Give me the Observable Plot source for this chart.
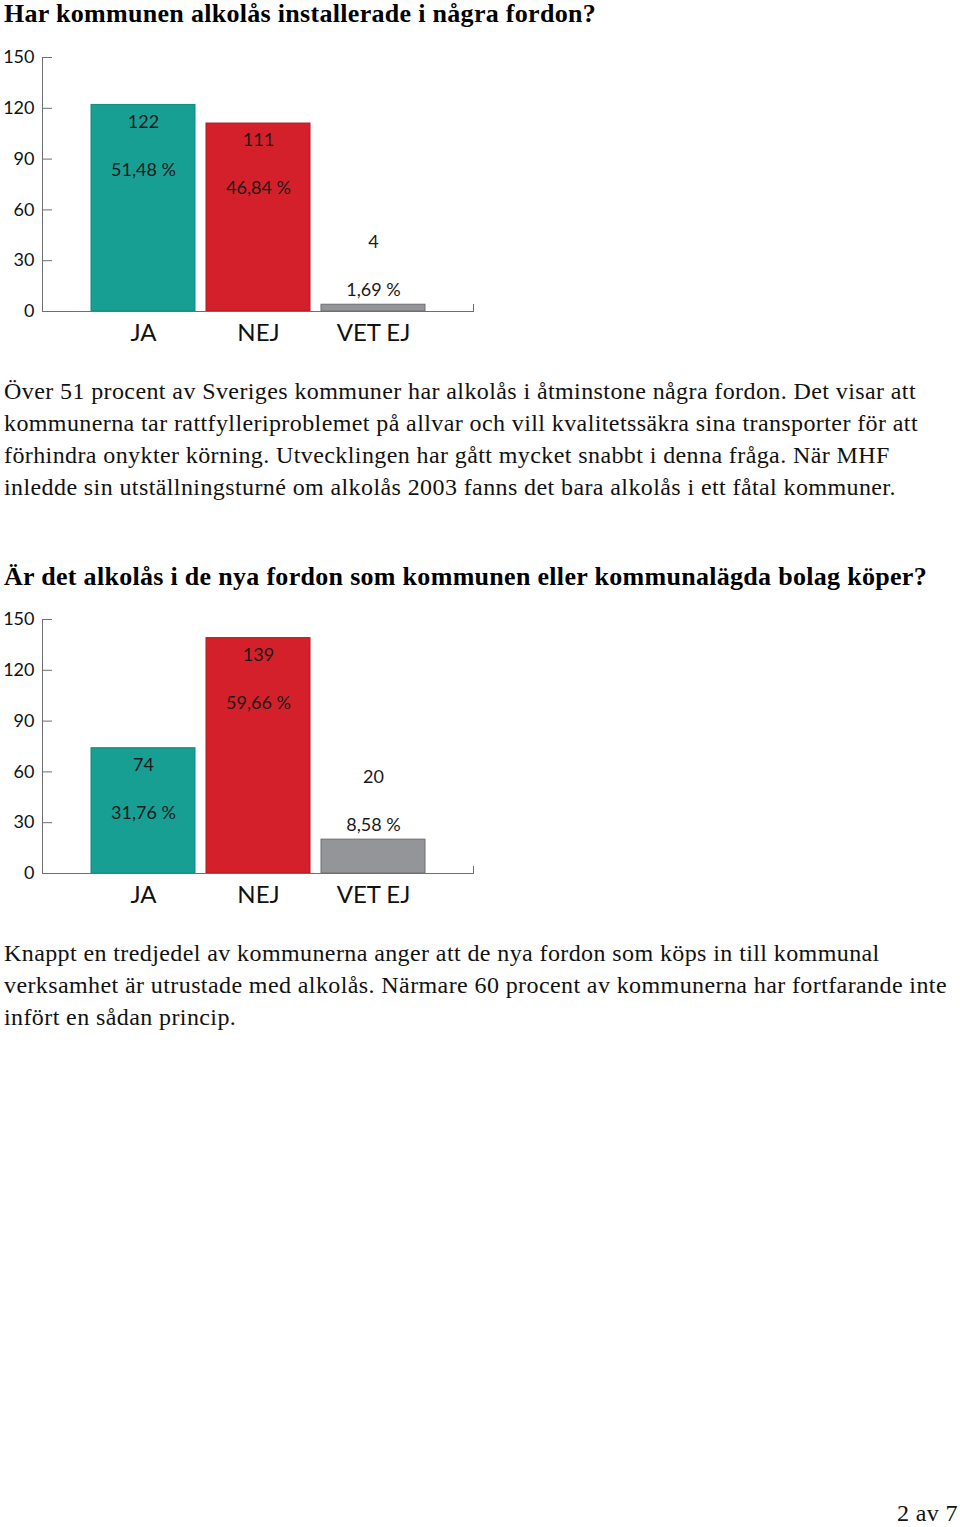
<!DOCTYPE html>
<html>
<head>
<meta charset="utf-8">
<script src="https://cdn.jsdelivr.net/npm/d3@7"></script>
<script src="https://cdn.jsdelivr.net/npm/@observablehq/plot@0.6"></script>
<style>
  html, body { margin: 0; padding: 0; background: #fff; }
  #page { position: relative; width: 960px; height: 1527px; overflow: hidden; }
  .title { position: absolute; left: 4px; font-family: "Liberation Serif", "DejaVu Serif", serif; font-weight: bold; font-size: 26px; line-height: 30px; letter-spacing: 0.3px; color: #000; white-space: nowrap; }
  .para { position: absolute; left: 4px; font-family: "Liberation Serif", "DejaVu Serif", serif; font-size: 24px; line-height: 32px; letter-spacing: 0.4px; color: #111; white-space: nowrap; }
  .chart { position: absolute; left: 0; }
  #footer { position: absolute; right: 2px; top: 1501px; line-height: 24px; font-family: "Liberation Serif", serif; font-size: 24px; letter-spacing: 0.4px; color: #111; }
</style>
</head>
<body>
<div id="page">
  <div class="title" style="top:-1px">Har kommunen alkolås installerade i några fordon?</div>
  <div class="chart" id="chart1" style="top:40px"></div>
  <div class="para" style="top:375px">Över 51 procent av Sveriges kommuner har alkolås i åtminstone några fordon. Det visar att<br>kommunerna tar rattfylleriproblemet på allvar och vill kvalitetssäkra sina transporter för att<br>förhindra onykter körning. Utvecklingen har gått mycket snabbt i denna fråga. När MHF<br>inledde sin utställningsturné om alkolås 2003 fanns det bara alkolås i ett fåtal kommuner.</div>
  <div class="title" style="top:562px">Är det alkolås i de nya fordon som kommunen eller kommunalägda bolag köper?</div>
  <div class="chart" id="chart2" style="top:602px"></div>
  <div class="para" style="top:937px">Knappt en tredjedel av kommunerna anger att de nya fordon som köps in till kommunal<br>verksamhet är utrustade med alkolås. Närmare 60 procent av kommunerna har fortfarande inte<br>infört en sådan princip.</div>
  <div id="footer">2 av 7</div>
</div>
<script>
const categories = ["JA", "NEJ", "VET EJ"];
const counts1 = [122, 111, 4];
const percents1 = ["51,48 %", "46,84 %", "1,69 %"];
const counts2 = [74, 139, 20];
const percents2 = ["31,76 %", "59,66 %", "8,58 %"];
const yTicks = [0, 30, 60, 90, 120, 150];
const fills = ["#179f94", "#d4202a", "#939598"];
const strokes = ["#0f8a80", "#b0181f", "#6d6e71"];

function drawChart(counts, percents) {
  const data = categories.map((c, i) => ({cat: c, n: counts[i], pct: percents[i], big: counts[i] > 40}));
  const big = data.filter(d => d.big);
  const small = data.filter(d => !d.big);
  return Plot.plot({
    width: 480,
    height: 310,
    marginLeft: 42,
    marginRight: 7,
    marginTop: 17,
    marginBottom: 39,
    style: {fontFamily: "Lato, 'Open Sans', sans-serif", color: "#111", background: "transparent"},
    x: {domain: categories, paddingInner: 0.096, paddingOuter: 0.42, label: null},
    y: {domain: [0, 150], label: null},
    color: {domain: categories, range: fills},
    marks: [
      Plot.barY(data, {x: "cat", y: "n", fill: "cat", stroke: d => strokes[categories.indexOf(d.cat)], strokeWidth: 1}),
      Plot.frame({anchor: "left", stroke: "#6d6e71"}),
      Plot.frame({anchor: "bottom", stroke: "#6d6e71"}),
      Plot.frame({anchor: "right", stroke: "#6d6e71", insetTop: 247}),
      Plot.axisY({ticks: yTicks, tickSize: -10, tickPadding: 18, fontSize: 18, stroke: "#6d6e71", fill: "#111", label: null, tickFormat: d => String(d)}),
      Plot.axisX({tickSize: 0, tickPadding: 12, fontSize: 24, fill: "#111", label: null}),
      Plot.text(big, {x: "cat", y: "n", text: d => String(d.n), dy: 17, fontSize: 18, fill: "#1a1a1a"}),
      Plot.text(big, {x: "cat", y: "n", text: "pct", dy: 65, fontSize: 18, fill: "#1a1a1a"}),
      Plot.text(small, {x: "cat", y: "n", text: d => String(d.n), dy: -62, fontSize: 18, fill: "#1a1a1a"}),
      Plot.text(small, {x: "cat", y: "n", text: "pct", dy: -14, fontSize: 18, fill: "#1a1a1a"})
    ]
  });
}

document.getElementById("chart1").appendChild(drawChart(counts1, percents1));
document.getElementById("chart2").appendChild(drawChart(counts2, percents2));
</script>
</body>
</html>
